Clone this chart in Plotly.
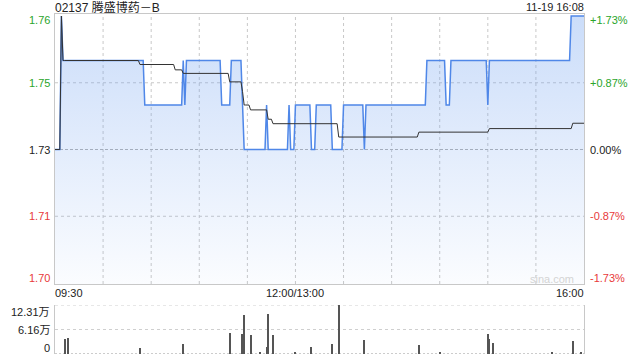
import plotly.graph_objects as go

# ---------------- data ----------------
title_text = "02137 腾盛博药－B"
stamp_text = "11-19 16:08"
prev_close = 1.73

price_times = ["09:30", "09:34", "09:35", "10:26", "10:50", "10:51", "10:52", "11:14", "11:20",
               "11:27", "11:28", "11:42", "11:43", "11:56", "11:57", "13:00", "13:10", "13:13",
               "13:23", "13:30", "13:43", "13:44", "14:22", "14:34", "14:37", "15:00", "15:01",
               "15:52"]
price_values = [1.73, 1.76, 1.75, 1.74, 1.75, 1.74, 1.75, 1.74, 1.75,
                1.74, 1.73, 1.74, 1.73, 1.74, 1.73, 1.74, 1.73, 1.74,
                1.73, 1.74, 1.73, 1.74, 1.75, 1.74, 1.75, 1.74, 1.75,
                1.76]

avg_times = ["09:30", "09:34", "09:35", "10:23", "10:45", "10:50", "11:19", "11:27", "11:28",
             "11:32", "11:43", "11:46", "13:27", "14:17", "15:01", "15:53"]
avg_values = [1.73, 1.76, 1.75, 1.7491, 1.7479, 1.7471, 1.7452, 1.7430, 1.7400,
              1.7389, 1.7368, 1.7358, 1.7328, 1.7339, 1.7347, 1.7359]

vol_times = ["09:36", "09:38", "10:23", "10:50", "11:19", "11:27", "11:28", "11:32", "11:38",
             "11:42", "11:43", "11:46", "13:00", "13:10", "13:23", "13:27", "13:43", "14:17",
             "14:30", "15:00", "15:01", "15:03", "15:40", "15:53", "15:58"]
vol_values = [36900, 39400, 14300, 25000, 53500, 50000, 98000, 47700, 3000,
              18000, 100000, 47700, 5000, 17000, 25000, 123100, 35000, 22600,
              5000, 50000, 37000, 28000, 5000, 32700, 5000]

y_tick_values = [1.76, 1.745, 1.73, 1.715, 1.70]
y_tick_labels = ["1.76", "1.75", "1.73", "1.71", "1.70"]
pct_tick_labels = ["+1.73%", "+0.87%", "0.00%", "-0.87%", "-1.73%"]
tick_colors = ["#2aa52a", "#2aa52a", "#222222", "#e83a3a", "#e83a3a"]
label_shift = [-4, 0, 0, 0, 5]

vol_tick_values = [123100, 61550, 0]
vol_tick_labels = ["12.31万", "6.16万", "0"]
vol_label_shift = [-7, 0, 6]

x_tick_times = ["09:30", "13:00", "16:00"]
x_tick_labels = ["09:30", "12:00/13:00", "16:00"]
x_tick_anchor = ["left", "center", "right"]


# ---------------- helpers ----------------
def minute_index(t):
    h, m = map(int, t.split(":"))
    tot = h * 60 + m
    if tot <= 12 * 60:
        return tot - (9 * 60 + 30)
    return 150 + tot - 13 * 60


TOTAL = minute_index("16:00")


def step_series(times, values):
    idx = [minute_index(t) for t in times]
    xs = list(range(0, TOTAL + 1))
    ys = []
    j = 0
    for x in xs:
        while j + 1 < len(idx) and idx[j + 1] <= x:
            j += 1
        ys.append(values[j])
    return xs, ys


px_x, px_y = step_series(price_times, price_values)
av_x, av_y = step_series(avg_times, avg_values)
vx = [minute_index(t) for t in vol_times]

W, H = 640, 360
L, R = 55, 584
MAIN_TOP, MAIN_BOT = 14, 284
VOL_TOP, VOL_BOT = 305, 354
ppu = (283 - 16) / 0.06
Y_LO = 1.70 - (MAIN_BOT - 283) / ppu
Y_HI = 1.76 + (16 - MAIN_TOP) / ppu

FONT = "Liberation Sans, Arial, Noto Sans CJK SC"

fig = go.Figure()

fig.add_trace(go.Scatter(
    x=px_x, y=px_y, mode="lines", fill="tozeroy",
    line=dict(color="#4f87e8", width=1.5),
    fillgradient=dict(type="vertical", start=1.70, stop=1.76,
                      colorscale=[[0, "rgba(110,160,240,0.03)"], [1, "rgba(110,160,240,0.36)"]]),
    hoverinfo="skip", showlegend=False, xaxis="x", yaxis="y"))

fig.add_trace(go.Scatter(
    x=av_x, y=av_y, mode="lines", line=dict(color="#333333", width=1),
    hoverinfo="skip", showlegend=False, xaxis="x", yaxis="y"))

fig.add_trace(go.Bar(
    x=vx, y=vol_values, width=0.7, marker=dict(color="#555555", line=dict(width=0)),
    hoverinfo="skip", showlegend=False, xaxis="x2", yaxis="y2"))

shapes = []
for m in range(30, TOTAL, 30):
    shapes.append(dict(type="line", xref="x", yref="y domain", x0=m, x1=m, y0=0, y1=1,
                       line=dict(color="#c8c8c8", width=1, dash="dot"), layer="below"))
for v in [1.745, 1.715]:
    shapes.append(dict(type="line", xref="x domain", yref="y", x0=0, x1=1, y0=v, y1=v,
                       line=dict(color="#c8c8c8", width=1, dash="dot"), layer="below"))
shapes.append(dict(type="line", xref="x domain", yref="y", x0=0, x1=1, y0=prev_close, y1=prev_close,
                   line=dict(color="#b0b0b0", width=1, dash="3px,2px"), layer="below"))
for v in vol_tick_values[:2]:
    shapes.append(dict(type="line", xref="x2 domain", yref="y2", x0=0, x1=1, y0=v, y1=v,
                       line=dict(color="#cfcfcf", width=1, dash="dot"), layer="below"))
shapes.append(dict(type="line", xref="x2 domain", yref="y2", x0=0, x1=1, y0=0, y1=0,
                   line=dict(color="#999999", width=1, dash="2px,2px"), layer="below"))

ann = []
for v, lab, pct, c, s in zip(y_tick_values, y_tick_labels, pct_tick_labels, tick_colors, label_shift):
    ann.append(dict(xref="paper", yref="y", x=52 / W, y=v, text=lab, showarrow=False,
                    xanchor="right", yanchor="middle", yshift=s,
                    font=dict(family=FONT, size=11, color=c)))
    ann.append(dict(xref="paper", yref="y", x=588 / W, y=v, text=pct, showarrow=False,
                    xanchor="left", yanchor="middle", yshift=s,
                    font=dict(family=FONT, size=11, color=c)))
for v, lab, s in zip(vol_tick_values, vol_tick_labels, vol_label_shift):
    ann.append(dict(xref="paper", yref="y2", x=52 / W, y=v, text=lab, showarrow=False,
                    xanchor="right", yanchor="middle", yshift=s,
                    font=dict(family=FONT, size=11, color="#222222")))
for t, lab, a in zip(x_tick_times, x_tick_labels, x_tick_anchor):
    ann.append(dict(xref="x", yref="paper", x=minute_index(t), y=1 - 293 / H, text=lab,
                    showarrow=False, xanchor=a, yanchor="middle",
                    xshift=(-2 if a == "left" else (2 if a == "right" else 0)),
                    font=dict(family=FONT, size=11, color="#222222")))
ann.append(dict(xref="paper", yref="paper", x=L / W, y=1 - 7 / H, text=title_text, showarrow=False,
                xanchor="left", yanchor="middle", xshift=-2,
                font=dict(family="Liberation Sans, Noto Sans CJK SC", size=12, color="#222222")))
ann.append(dict(xref="paper", yref="paper", x=R / W, y=1 - 7 / H, text=stamp_text, showarrow=False,
                xanchor="right", yanchor="middle", xshift=2,
                font=dict(family=FONT, size=11, color="#222222")))
ann.append(dict(xref="paper", yref="paper", x=552 / W, y=1 - 279 / H, text="sina.com", showarrow=False,
                xanchor="center", yanchor="middle",
                font=dict(family=FONT, size=11, color="#d4d4d4")))

axis_common = dict(showgrid=False, zeroline=False, showticklabels=False, ticks="",
                   fixedrange=True)

fig.update_layout(
    width=W, height=H, margin=dict(l=0, r=0, t=0, b=0),
    paper_bgcolor="white", plot_bgcolor="white",
    xaxis=dict(domain=[L / W, R / W], range=[0, TOTAL], showline=True, mirror=True,
               linecolor="#c8c8c8", linewidth=1, anchor="y", **axis_common),
    yaxis=dict(domain=[1 - MAIN_BOT / H, 1 - MAIN_TOP / H], range=[Y_LO, Y_HI], showline=True,
               mirror=True, linecolor="#c8c8c8", linewidth=1, anchor="x", **axis_common),
    xaxis2=dict(domain=[L / W, R / W], range=[0, TOTAL], showline=False, anchor="y2", **axis_common),
    yaxis2=dict(domain=[1 - VOL_BOT / H, 1 - VOL_TOP / H], range=[0, 123100], showline=True,
                mirror=True, linecolor="#c8c8c8", linewidth=1, anchor="x2", **axis_common),
    shapes=shapes, annotations=ann, bargap=0,
)

fig.write_html("out.html")
